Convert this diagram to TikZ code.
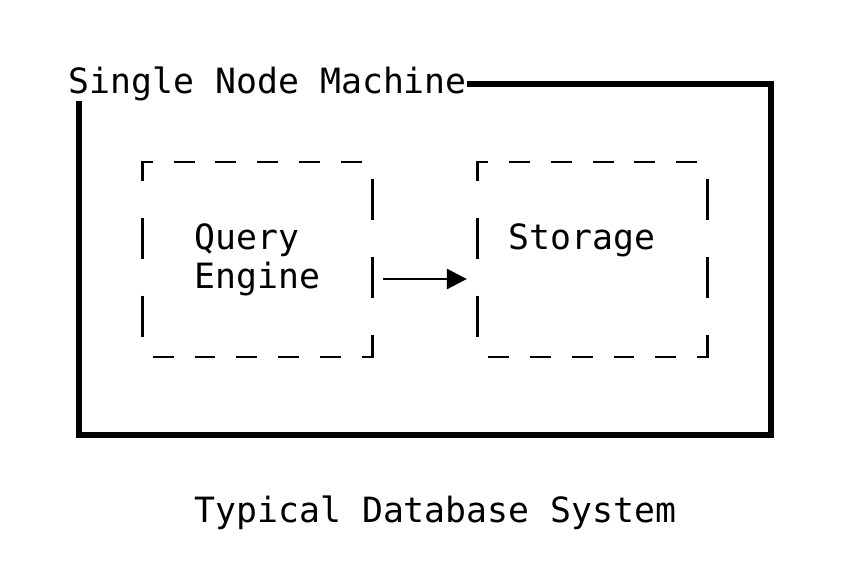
\documentclass[tikz,border=0pt]{standalone}
\usepackage{fontspec}
\usetikzlibrary{arrows.meta}
\newfontfamily\asciimono{DejaVu Sans Mono}
\begin{document}
\begin{tikzpicture}[x=20.95pt, y=-39pt,
  heavy/.style={line width=6pt, line join=miter, line cap=butt},
  light/.style={line width=2.8pt, line join=miter, line cap=butt},
  txt/.style={inner sep=0pt, outer sep=0pt, anchor=base west,
    font=\asciimono\fontsize{34.8pt}{39pt}\selectfont},
  area/.style={draw=none, inner sep=0pt, outer sep=0pt, rectangle},
  flow/.style={light, -{Triangle[length=20pt,width=20pt]}}]

\useasboundingbox[fill=white] (-3.2840,-2.1538) rectangle (37.0501,12.4872);

% areas of the boxes
\node[area, minimum width=691.35pt, minimum height=351pt] (sys) at (17,4.5) {};
\node[area, minimum width=230.45pt, minimum height=195pt] (qe) at (9,4.5) {};
\node[area, minimum width=230.45pt, minimum height=195pt] (st) at (25,4.5) {};
\coordinate (r5) at (0,5);

% texts
\node[txt] (title) at (0,0.2436) {Single Node Machine};
\node[txt] (qtext) at (6,4.2436) {Query};
\node[txt] (etext) at (6,5.2436) {Engine};
\node[txt] (stext) at (21,4.2436) {Storage};
\node[txt] (caption) at (6,11.2436) {Typical Database System};

% heavy outer frame
\draw[heavy] (title.east |- sys.north) -- (sys.north east) -- (sys.south east)
  -- (sys.south west) -- ([yshift=-16.5pt]sys.north west);

% dashed boxes
\foreach \a/\b in {3/14,19/30} {
  \draw[light] (\a+0.5,2.487) -- (\a+0.5,2) -- (\a+1,2);
  \foreach \k in {2,4,...,10} \draw[light] (\a+\k,2) -- (\a+\k+1,2);
  \foreach \k in {1,3,...,9} \draw[light] (\a+\k,7) -- (\a+\k+1,7);
  \draw[light] (\b,7) -- (\b+0.5,7) -- (\b+0.5,6.423);
  \foreach \r in {3,5} \draw[light] (\b+0.5,\r-0.577) -- (\b+0.5,\r+0.487);
  \foreach \r in {4,6} \draw[light] (\a+0.5,\r-0.577) -- (\a+0.5,\r+0.487);
}

% arrow
\draw[flow] ([xshift=10.475pt]qe.east |- r5) -- ([xshift=-10.475pt]st.west |- r5);
\end{tikzpicture}
\end{document}
